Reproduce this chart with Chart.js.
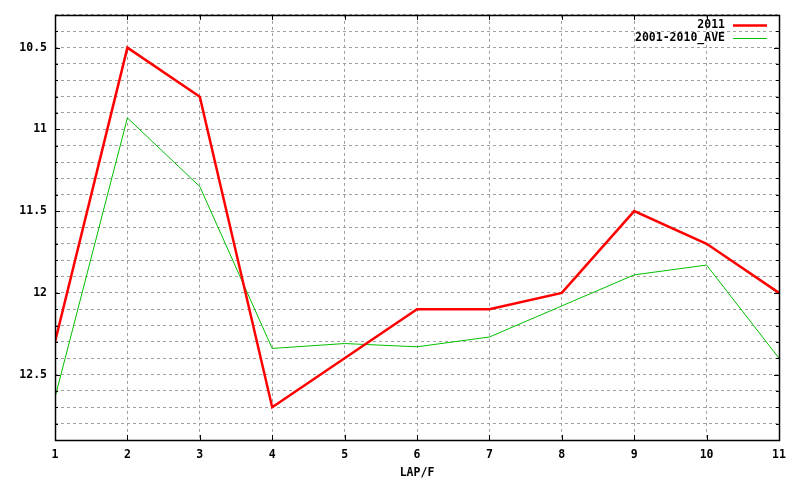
<!DOCTYPE html>
<html>
<head>
<meta charset="utf-8">
<script src="https://cdn.jsdelivr.net/npm/chart.js@4"></script>
<style>
  html, body { margin: 0; padding: 0; background: #fff; }
  #wrap { width: 800px; height: 480px; }
</style>
</head>
<body>
<div id="wrap"><canvas id="lapChart" width="800" height="480"></canvas></div>
<script>
// --- datos ---
const laps = [1, 2, 3, 4, 5, 6, 7, 8, 9, 10, 11];
const serie2011 = [12.3, 10.5, 10.8, 12.7, 12.4, 12.1, 12.1, 12.0, 11.5, 11.7, 12.0];
const serieAve = [12.64, 10.93, 11.35, 12.34, 12.31, 12.33, 12.27, 12.08, 11.89, 11.83, 12.40];
const labels = ['2011', '2001-2010_AVE'];
const yMajor = [10.5, 11, 11.5, 12, 12.5];

const FONT = { family: '"DejaVu Sans Mono", monospace', size: 11.5, weight: 'bold' };

function isMajor(v) {
    return yMajor.some(m => Math.abs(m - v) < 1e-6);
}

// marco y marcas hacia dentro, estilo gnuplot
const frameTicks = {
    id: 'frameTicks',
    afterDraw(chart) {
        const ctx = chart.ctx;
        const a = chart.chartArea;
        const xs = chart.scales.x;
        const ys = chart.scales.y;
        ctx.save();
        ctx.strokeStyle = '#000';
        ctx.lineWidth = 1;
        ctx.beginPath();
        ys.ticks.forEach(t => {
            const y = Math.round(ys.getPixelForValue(t.value)) + 0.5;
            const len = isMajor(t.value) ? 5 : 3;
            ctx.moveTo(a.left, y); ctx.lineTo(a.left + len, y);
            ctx.moveTo(a.right, y); ctx.lineTo(a.right - len, y);
        });
        xs.ticks.forEach(t => {
            const x = Math.round(xs.getPixelForValue(t.value)) + 0.5;
            ctx.moveTo(x, a.bottom); ctx.lineTo(x, a.bottom - 5);
            ctx.moveTo(x, a.top); ctx.lineTo(x, a.top + 5);
        });
        ctx.stroke();
        ctx.lineWidth = 1.5;
        ctx.strokeRect(Math.round(a.left) + 0.5, Math.round(a.top) + 0.5,
            Math.round(a.right - a.left), Math.round(a.bottom - a.top));
        ctx.restore();
    }
};

// leyenda dentro del area, arriba a la derecha
const insideLegend = {
    id: 'insideLegend',
    afterDatasetsDraw(chart) {
        const ctx = chart.ctx;
        const a = chart.chartArea;
        ctx.save();
        ctx.font = `${FONT.weight} ${FONT.size}px ${FONT.family}`;
        ctx.textAlign = 'right';
        ctx.textBaseline = 'middle';
        chart.data.datasets.forEach((ds, i) => {
            const y = Math.round(a.top + 10 + i * 13) + 0.5;
            ctx.fillStyle = '#000';
            ctx.fillText(ds.label, a.right - 54, y);
            ctx.strokeStyle = ds.borderColor;
            ctx.lineWidth = ds.borderWidth;
            ctx.beginPath();
            ctx.moveTo(a.right - 46, y);
            ctx.lineTo(a.right - 12, y);
            ctx.stroke();
        });
        ctx.restore();
    }
};

new Chart(document.getElementById('lapChart'), {
    type: 'line',
    data: {
        datasets: [
            {
                label: labels[0],
                data: laps.map((x, i) => ({ x: x, y: serie2011[i] })),
                borderColor: '#ff0000',
                borderWidth: 2.5,
                pointRadius: 0,
                tension: 0
            },
            {
                label: labels[1],
                data: laps.map((x, i) => ({ x: x, y: serieAve[i] })),
                borderColor: '#00c000',
                borderWidth: 1,
                pointRadius: 0,
                tension: 0
            }
        ]
    },
    options: {
        responsive: false,
        animation: false,
        layout: { padding: { top: 13, right: 21, left: 0, bottom: 0 } },
        plugins: { legend: { display: false }, tooltip: { enabled: false } },
        scales: {
            x: {
                type: 'linear',
                min: 1,
                max: 11,
                afterFit: s => { s.height = 40; },
                ticks: { stepSize: 1, padding: 8, color: '#000', font: FONT, maxRotation: 0 },
                grid: { color: '#a0a0a0', drawTicks: false, lineWidth: 1 },
                border: { display: false, dash: [3, 3] },
                title: { display: true, text: 'LAP/F', color: '#000', font: FONT, padding: { top: 0, bottom: 0 } }
            },
            y: {
                type: 'linear',
                reverse: true,
                min: 10.3,
                max: 12.9,
                afterFit: s => { s.width = 55; },
                ticks: {
                    stepSize: 0.1,
                    autoSkip: false,
                    padding: 8,
                    color: '#000',
                    font: FONT,
                    callback: v => isMajor(v) ? String(Math.round(v * 10) / 10) : ''
                },
                grid: { color: '#a0a0a0', drawTicks: false, lineWidth: 1 },
                border: { display: false, dash: [3, 3] }
            }
        }
    },
    plugins: [frameTicks, insideLegend]
});
</script>
</body>
</html>
